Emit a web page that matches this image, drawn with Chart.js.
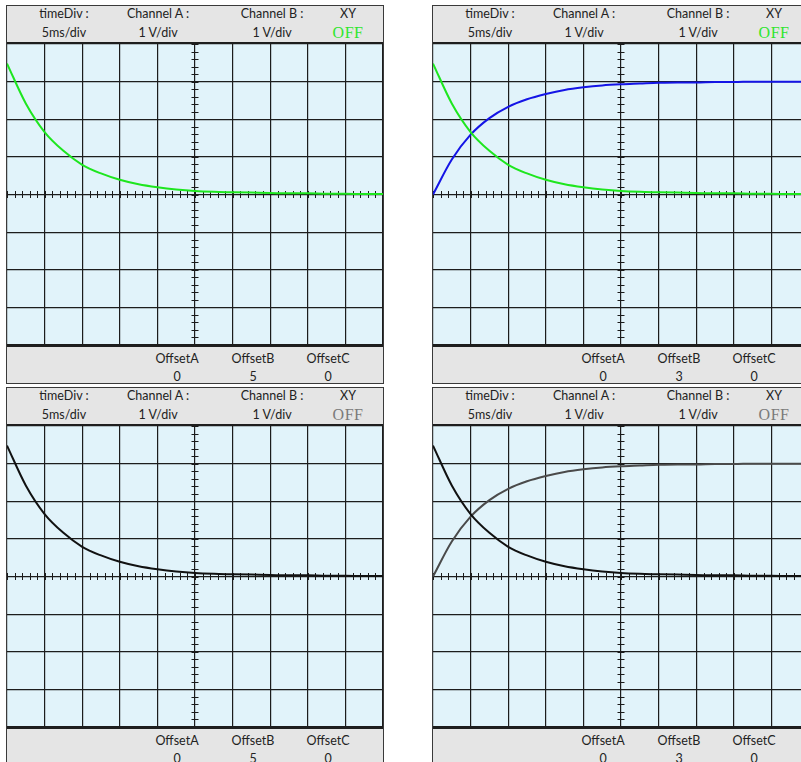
<!DOCTYPE html>
<html lang="en">
<head>
<meta charset="UTF-8">
<title>Oscilloscope</title>
<script src="https://cdn.jsdelivr.net/npm/chart.js"></script>
<style>
    body { margin: 0; width: 801px; height: 762px; overflow: hidden; background: #fff; position: relative; font-family: Lato, 'Open Sans', sans-serif; }
    .panel { position: absolute; width: 378px; height: 379px; box-sizing: border-box; border: 1px solid #3a3a3a; background: #e5e5e5; }
    .head, .foot { position: relative; height: 36px; background: #e5e5e5; }
    .head { border-bottom: 2px solid #1e1e1e; }
    .foot { border-top: 2px solid #1e1e1e; }
    .plot { height: 301px; background: #e1f3fa; }
    .plot canvas { display: block; }
    .lbl { position: absolute; transform: translateX(-50%); white-space: nowrap; font-size: 12.5px; line-height: 14px; color: #222; }
    .off { font-family: 'Liberation Serif', serif; font-size: 16px; line-height: 16px; letter-spacing: 0.5px; }
</style>
</head>
<body>
<script>
// time axis in ms (5 ms/div), voltages in V (1 V/div)
const timeMs = [0, 2.5, 5, 7.5, 10, 12.5, 15, 17.5, 20, 22.5, 25, 27.5, 30, 32.5, 35, 37.5, 40, 42.5, 45, 47.5, 50];
const chanA = [3.48, 2.42, 1.66, 1.16, 0.79, 0.56, 0.39, 0.27, 0.19, 0.13, 0.09, 0.07, 0.06, 0.05, 0.04, 0.03, 0.03, 0.02, 0.02, 0.01, 0.01];
const chanB = [0, 0.93, 1.59, 2.03, 2.33, 2.53, 2.67, 2.78, 2.85, 2.90, 2.93, 2.95, 2.97, 2.98, 2.98, 2.99, 2.99, 3.00, 3.00, 3.00, 3.00];
const headTop = ['timeDiv :', 'Channel A :', 'Channel B :', 'XY'];
const headBottom = ['5ms/div', '1 V/div', '1 V/div', 'OFF'];
const offsetNames = ['OffsetA', 'OffsetB', 'OffsetC'];
const offsetsLeft = [0, 5, 0];
const offsetsRight = [0, 3, 0];

const panels = [
    { left: 6, top: 5, offsets: offsetsLeft, offColor: '#2ee62e', series: [[chanA, '#1ee61e']] },
    { left: 432, top: 5, offsets: offsetsRight, offColor: '#2ee62e', series: [[chanA, '#1ee61e'], [chanB, '#1414e6']] },
    { left: 6, top: 387, offsets: offsetsLeft, offColor: '#7a7a7a', series: [[chanA, '#111111']] },
    { left: 432, top: 387, offsets: offsetsRight, offColor: '#7a7a7a', series: [[chanA, '#111111'], [chanB, '#4a4a4a']] }
];

const headX = [57, 151, 265, 341];
const footX = [170, 246, 321];

// small graduation marks on the two centre lines
const centreTicks = {
    id: 'centreTicks',
    beforeDatasetsDraw(chart) {
        const { ctx, scales: { x, y } } = chart;
        const x0 = x.getPixelForValue(25), y0 = y.getPixelForValue(0);
        ctx.save();
        ctx.strokeStyle = '#1a1a1a';
        ctx.lineWidth = 1;
        ctx.beginPath();
        for (let t = 0; t <= 50; t += 1) {
            const px = Math.round(x.getPixelForValue(t)) + 0.5;
            ctx.moveTo(px, y0 - 3.5); ctx.lineTo(px, y0 + 3.5);
        }
        for (let v = -20; v <= 20; v += 1) {
            const py = Math.round(y.getPixelForValue(v / 5)) + 0.5;
            ctx.moveTo(x0 - 3.5, py); ctx.lineTo(x0 + 3.5, py);
        }
        ctx.stroke();
        ctx.restore();
    }
};

panels.forEach((p, i) => {
    const div = document.createElement('div');
    div.className = 'panel';
    div.style.left = p.left + 'px';
    div.style.top = p.top + 'px';
    let head = '';
    headTop.forEach((t, k) => { head += `<span class="lbl" style="left:${headX[k]}px;top:1px">${t}</span>`; });
    headBottom.forEach((t, k) => {
        if (k === 3) head += `<span class="lbl off" style="left:${headX[k]}px;top:19px;color:${p.offColor}">${t}</span>`;
        else head += `<span class="lbl" style="left:${headX[k]}px;top:20px">${t}</span>`;
    });
    let foot = '';
    offsetNames.forEach((t, k) => {
        foot += `<span class="lbl" style="left:${footX[k]}px;top:5px">${t}</span>`;
        foot += `<span class="lbl" style="left:${footX[k]}px;top:23px">${p.offsets[k]}</span>`;
    });
    div.innerHTML = `<div class="head">${head}</div><div class="plot"><canvas id="c${i}" width="376" height="301"></canvas></div><div class="foot">${foot}</div>`;
    document.body.appendChild(div);

    new Chart(document.getElementById('c' + i), {
        type: 'line',
        data: {
            datasets: p.series.map(s => ({
                data: timeMs.map((t, k) => ({ x: t, y: s[0][k] })),
                borderColor: s[1],
                borderWidth: 2,
                pointRadius: 0,
                cubicInterpolationMode: 'monotone',
                fill: false
            }))
        },
        options: {
            responsive: false,
            animation: false,
            layout: { padding: 0 },
            plugins: { legend: { display: false }, tooltip: { enabled: false } },
            scales: {
                x: {
                    type: 'linear', min: 0, max: 50,
                    ticks: { display: false, stepSize: 5 },
                    grid: { color: '#1c1c1c', lineWidth: 1.2, drawTicks: false },
                    border: { display: false }
                },
                y: {
                    type: 'linear', min: -4, max: 4,
                    ticks: { display: false, stepSize: 1 },
                    grid: { color: '#1c1c1c', lineWidth: 1.2, drawTicks: false },
                    border: { display: false }
                }
            }
        },
        plugins: [centreTicks]
    });
});
</script>
</body>
</html>
